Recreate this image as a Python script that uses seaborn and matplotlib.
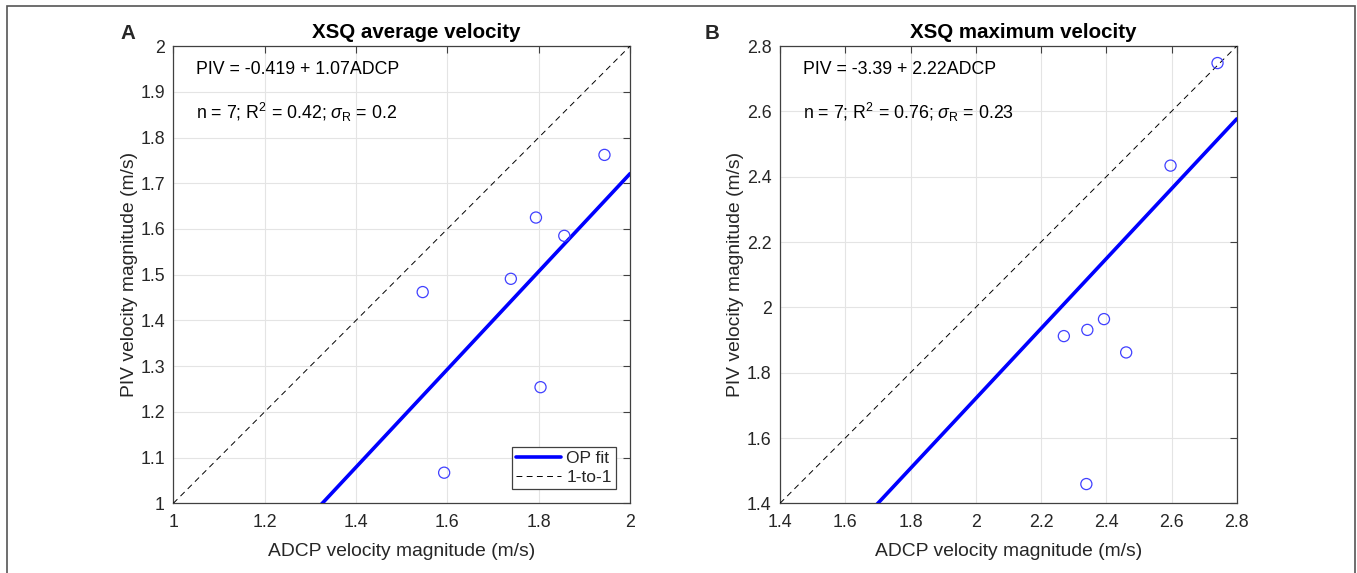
import numpy as np
import pandas as pd
import matplotlib
matplotlib.use("Agg")
import matplotlib.pyplot as plt
import seaborn as sns
from matplotlib.patches import Rectangle

# ---- data ----
adcp_avg = [1.546, 1.593, 1.739, 1.794, 1.804, 1.856, 1.944]
piv_avg = [1.462, 1.067, 1.491, 1.625, 1.254, 1.585, 1.762]
adcp_max = [2.270, 2.342, 2.393, 2.461, 2.339, 2.597, 2.741]
piv_max = [1.912, 1.931, 1.964, 1.862, 1.459, 2.434, 2.748]

# fitted line actually drawn (same coefficients in both panels)
fit_intercept = [-0.419, -0.419]
fit_slope = [1.07, 1.07]

titles = ["XSQ average velocity", "XSQ maximum velocity"]
panel_letters = ["A", "B"]
eq_texts = ["PIV = -0.419 + 1.07ADCP", "PIV = -3.39 + 2.22ADCP"]
stat_texts = [r"n = 7; R$^{2}$ = 0.42; $\sigma_{\mathrm{R}}$ = 0.2",
              r"n = 7; R$^{2}$ = 0.76; $\sigma_{\mathrm{R}}$ = 0.23"]
limits = [(1.0, 2.0), (1.4, 2.8)]
xticks = [[1, 1.2, 1.4, 1.6, 1.8, 2], [1.4, 1.6, 1.8, 2, 2.2, 2.4, 2.6, 2.8]]
yticks = [[1, 1.1, 1.2, 1.3, 1.4, 1.5, 1.6, 1.7, 1.8, 1.9, 2],
          [1.4, 1.6, 1.8, 2, 2.2, 2.4, 2.6, 2.8]]
xlabel = "ADCP velocity magnitude (m/s)"
ylabel = "PIV velocity magnitude (m/s)"

sns.set_style("white")
plt.rcParams["font.family"] = ["Liberation Sans", "DejaVu Sans"]
plt.rcParams["mathtext.fontset"] = "custom"
plt.rcParams["mathtext.rm"] = "Liberation Sans"
plt.rcParams["mathtext.it"] = "Liberation Sans:italic"

fig = plt.figure(figsize=(13.57, 5.73), dpi=100)
axes_pos = [[0.1277, 0.1216, 0.3366, 0.798], [0.5748, 0.1216, 0.3366, 0.798]]
letter_x = [0.094, 0.525]

datasets = [(adcp_avg, piv_avg), (adcp_max, piv_max)]
spine_col = "#404040"
text_col = "#262626"

for i in range(2):
    ax = fig.add_axes(axes_pos[i])
    lo, hi = limits[i]
    xs, ys = datasets[i]
    df = pd.DataFrame({"ADCP": xs, "PIV": ys})
    sns.scatterplot(data=df, x="ADCP", y="PIV", ax=ax, marker="o",
                    facecolor="none", edgecolor="#4040ff", s=64, linewidth=0.9,
                    legend=False, zorder=4)
    lx = np.array([lo, hi])
    fit_df = pd.DataFrame({"x": lx, "y": fit_intercept[i] + fit_slope[i] * lx})
    sns.lineplot(data=fit_df, x="x", y="y", ax=ax, color="#0000ff", lw=2.6,
                 label="OP fit", zorder=3)
    one_df = pd.DataFrame({"x": lx, "y": lx})
    sns.lineplot(data=one_df, x="x", y="y", ax=ax, color="black", lw=0.7,
                 label="1-to-1", zorder=3)
    ax.lines[-1].set_dashes([6, 4.5])

    ax.set_xlim(lo, hi)
    ax.set_ylim(lo, hi)
    ax.set_xticks(xticks[i])
    ax.set_yticks(yticks[i])
    ax.set_xticklabels([f"{t:g}" for t in xticks[i]])
    ax.set_yticklabels([f"{t:g}" for t in yticks[i]])
    ax.grid(True, color="#e4e4e4", lw=0.8, zorder=0)
    ax.set_axisbelow(True)
    ax.tick_params(direction="in", length=5, width=0.8, colors=spine_col,
                   labelcolor=text_col, labelsize=12.8, top=True, right=True)
    ax.tick_params(axis="x", pad=7.5)
    ax.tick_params(axis="y", pad=6)
    for s in ax.spines.values():
        s.set_visible(True)
        s.set_color(spine_col)
        s.set_linewidth(0.9)
    ax.set_xlabel(xlabel, fontsize=13.9, color=text_col, labelpad=9)
    ax.set_ylabel(ylabel, fontsize=13.9, color=text_col, labelpad=2)
    ax.set_title(titles[i], fontsize=14.8, fontweight="bold", color="black",
                 pad=6, x=0.533)
    ax.text(0.05, 0.948, eq_texts[i], transform=ax.transAxes, fontsize=12.8,
            va="center", ha="left", color="black")
    ax.text(0.05, 0.855, stat_texts[i], transform=ax.transAxes, fontsize=12.8,
            va="center", ha="left", color="black")
    fig.text(letter_x[i], 0.942, panel_letters[i], fontsize=14.8,
             fontweight="bold", ha="center", va="center")
    if i == 0:
        leg = ax.legend(loc="lower right", fontsize=12.5, frameon=True,
                        fancybox=False, edgecolor=spine_col, framealpha=1,
                        handlelength=2.6, borderpad=0.25, labelspacing=0.2,
                        handletextpad=0.3, borderaxespad=0.8)
        leg.get_frame().set_linewidth(0.9)
    else:
        if ax.get_legend() is not None:
            ax.get_legend().remove()

fig.patches.append(Rectangle((7 / 1357, -0.05), (1355 - 7) / 1357, 1.05 - 6 / 573,
                             transform=fig.transFigure, fill=False,
                             edgecolor="#555555", lw=1.2))

fig.savefig("out.png", dpi=100)
